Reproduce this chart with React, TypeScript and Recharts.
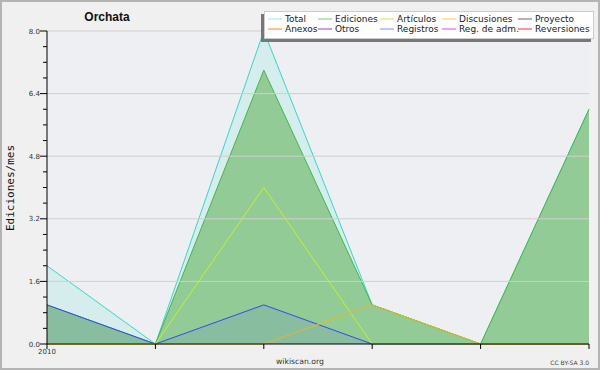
import React from 'react';
import {
  ComposedChart,
  Area,
  Line,
  XAxis,
  YAxis,
  CartesianGrid,
  ReferenceLine,
} from 'recharts';

// periods (x index) and their labels
const periods = [0, 1, 2, 3, 4, 5];
const periodLabels = ['2010', '', '', '', '', ''];

// edits per month
const total = [2, 0, 8, 1, 0, 6];
const ediciones = [1, 0, 7, 1, 0, 6];
const articulos = [0, 0, 4, 0, 0, 0];
const discusiones = [0, 0, 0, 1, 0, 0];
const registros = [1, 0, 1, 0, 0, 0];

const yTicks = [0, 0.4, 0.8, 1.2, 1.6, 2, 2.4, 2.8, 3.2, 3.6, 4, 4.4, 4.8, 5.2, 5.6, 6, 6.4, 6.8, 7.2, 7.6, 8];
const yMajor = [1.6, 3.2, 4.8, 6.4, 8];

const legendItems = [
  { name: 'Total', color: '#9fe6de' },
  { name: 'Ediciones', color: '#7acb7a' },
  { name: 'Artículos', color: '#c8ee5a' },
  { name: 'Discusiones', color: '#ffcc44' },
  { name: 'Proyecto', color: '#666666' },
  { name: 'Anexos', color: '#ff8040' },
  { name: 'Otros', color: '#8a3fe0' },
  { name: 'Registros', color: '#7f8cff' },
  { name: 'Reg. de adm.', color: '#e048f0' },
  { name: 'Reversiones', color: '#ff3333' },
];
const legendCols = [4, 54, 116, 178, 254];

const data = periods.map((p, i) => ({
  x: p,
  total: total[i],
  ediciones: ediciones[i],
  articulos: articulos[i],
  discusiones: discusiones[i],
  registros: registros[i],
}));

const isMajor = (v: number) => Math.abs(v / 1.6 - Math.round(v / 1.6)) < 1e-6;

const YTick = (props: any) => {
  const { x, y, payload } = props;
  const v = payload.value as number;
  const major = isMajor(v);
  return (
    <g>
      <line x1={x - (major ? 7 : 4)} x2={x} y1={y} y2={y} stroke="#000" />
      {major && (
        <text x={x - 7} y={y + 2.5} textAnchor="end" fontSize={7} fill="#333" fontFamily="DejaVu Sans">
          {v.toFixed(1)}
        </text>
      )}
    </g>
  );
};

const XTick = (props: any) => {
  const { x, y, payload } = props;
  return (
    <g>
      <line x1={x} x2={x} y1={y} y2={y + 5} stroke="#000" />
      <text x={x} y={y + 9.5} textAnchor="middle" fontSize={7} fill="#333" fontFamily="DejaVu Sans">
        {periodLabels[payload.value]}
      </text>
    </g>
  );
};

export default function App() {
  return (
    <div style={{ position: 'absolute', left: 0, top: 0, width: 600, height: 370, background: '#f0f0f0' }}>
      <ComposedChart
        width={600}
        height={370}
        data={data}
        margin={{ top: 31, right: 11, left: 0, bottom: 0 }}
      >
        <CartesianGrid horizontal={false} vertical={false} fill="#eeeff2" stroke="none" />
        {yMajor.map((v) => (
          <ReferenceLine key={v} y={v} stroke="#cfcfcf" />
        ))}
        <Area
          type="linear"
          dataKey="total"
          stroke="#33d9c9"
          strokeWidth={1}
          fill="#40e0d0"
          fillOpacity={0.14}
          isAnimationActive={false}
          dot={false}
          activeDot={false}
        />
        <Area
          type="linear"
          dataKey="ediciones"
          stroke="#3fb84a"
          strokeWidth={1}
          fill="#92cb96"
          fillOpacity={1}
          isAnimationActive={false}
          dot={false}
          activeDot={false}
        />
        <Line
          type="linear"
          dataKey="articulos"
          stroke="#c6f02a"
          strokeWidth={1}
          dot={false}
          isAnimationActive={false}
        />
        <Line
          type="linear"
          dataKey="discusiones"
          stroke="#e8b820"
          strokeWidth={1}
          dot={false}
          isAnimationActive={false}
        />
        <Area
          type="linear"
          dataKey="registros"
          stroke="#3548f5"
          strokeWidth={1}
          fill="#3344ff"
          fillOpacity={0.1}
          isAnimationActive={false}
          dot={false}
          activeDot={false}
        />
        <XAxis
          dataKey="x"
          type="number"
          domain={[0, 5]}
          ticks={periods}
          interval={0}
          height={26}
          axisLine={{ stroke: '#000' }}
          tickLine={false}
          tickSize={0}
          tickMargin={0}
          tick={<XTick />}
        />
        <YAxis
          type="number"
          domain={[0, 8]}
          ticks={yTicks}
          interval={0}
          width={47}
          axisLine={{ stroke: '#000' }}
          tickLine={false}
          tickSize={0}
          tickMargin={0}
          tick={<YTick />}
        />
      </ComposedChart>
      <svg
        width={600}
        height={370}
        style={{ position: 'absolute', left: 0, top: 0, pointerEvents: 'none' }}
      >
        <rect x={1} y={1} width={598} height={368} fill="none" stroke="#b4b4b4" strokeWidth={2} />
        <text x={107} y={20.5} textAnchor="middle" fontSize={12} fontWeight="bold" fontFamily="Liberation Sans" fill="#111">
          Orchata
        </text>
        <text
          x={10}
          y={188}
          transform="rotate(-90, 10, 188)"
          textAnchor="middle"
          dominantBaseline="central"
          fontSize={11}
          fontFamily="DejaVu Sans Mono"
          fill="#111"
        >
          Ediciones/mes
        </text>
        <text x={300} y={364} textAnchor="middle" fontSize={7.7} fontFamily="DejaVu Sans" fill="#333">
          wikiscan.org
        </text>
        <text x={589} y={365} textAnchor="end" fontSize={6} fontFamily="DejaVu Sans" fill="#444">
          CC BY-SA 3.0
        </text>
        <g transform="translate(264, 11)">
          <rect x={-3} y={3} width={330} height={28} fill="#777" />
          <rect x={0.5} y={0.5} width={329} height={27} fill="#fff" stroke="#cccccc" />
          {legendItems.map((it, i) => {
            const col = legendCols[i % 5];
            const row = Math.floor(i / 5);
            const cy = 8 + row * 10;
            return (
              <g key={it.name}>
                <line x1={col} x2={col + 14} y1={cy} y2={cy} stroke={it.color} />
                <text x={col + 17} y={cy + 3.2} fontSize={9} fontFamily="DejaVu Sans" fill="#222">
                  {it.name}
                </text>
              </g>
            );
          })}
        </g>
      </svg>
    </div>
  );
}
